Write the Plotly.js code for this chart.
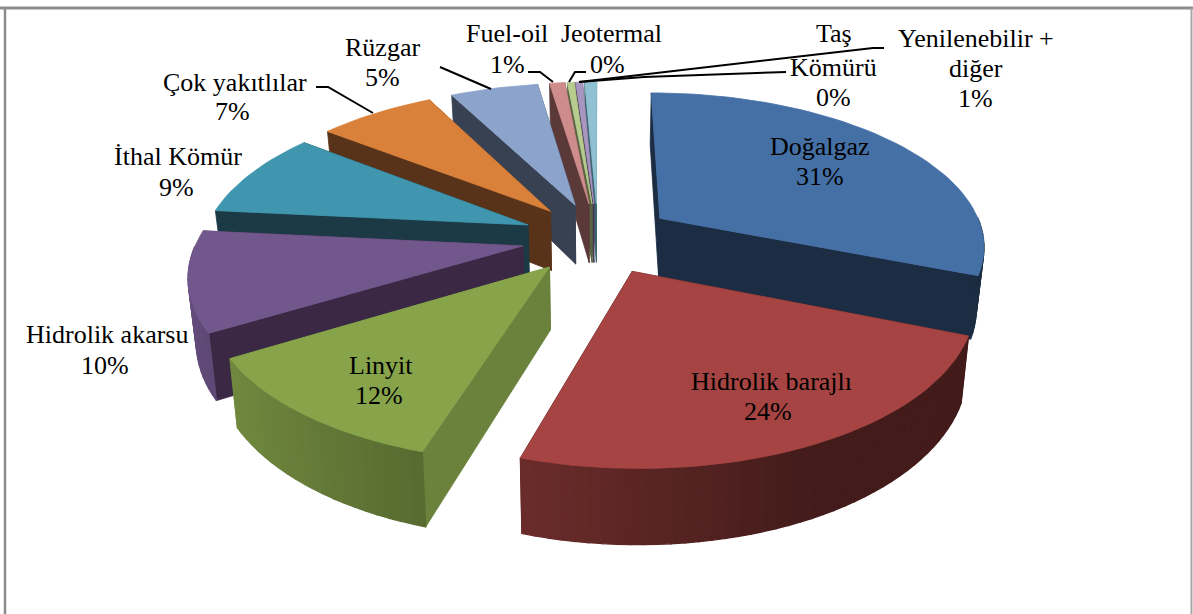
<!DOCTYPE html>
<html><head><meta charset="utf-8">
<script src="https://cdn.plot.ly/plotly-3.0.1.min.js"></script>
<style>html,body{margin:0;padding:0;background:#fff}#c{width:1193px;height:614px}</style>
</head><body><div id="c"></div>
<script>
// Data
const categories = ["Doğalgaz","Hidrolik barajlı","Linyit","Hidrolik akarsu","İthal Kömür","Çok yakıtlılar","Rüzgar","Fuel-oil","Jeotermal","Taş Kömürü","Yenilenebilir + diğer"];
const shares = [31.0,23.7,11.6,10.2,8.9,6.9,5.2,0.9,0.4,0.4,0.7];
const percentLabels = ["31%","24%","12%","10%","9%","7%","5%","1%","0%","0%","1%"];
// Styles
const topColors = ["#4570A6","#A54442","#87A44B","#71578C","#3F96AE","#D9813A","#8CA4CC","#CE8C8A","#B7CC8F","#A797C0","#8FC1D3"];
const cutColors = ["#1B2C43","#431A18","#6A823C","#3A2844","#1B3A45","#58331A","#384152","#5A3938","#586541","#463A55","#3E6572"];
const labelLines = [["Doğalgaz"],["Hidrolik barajlı"],["Linyit"],["Hidrolik akarsu"],["İthal Kömür"],["Çok yakıtlılar"],["Rüzgar"],["Fuel-oil"],["Jeotermal"],["Taş","Kömürü"],["Yenilenebilir +","diğer"]];
const labelAnchors = [[[820,146],[820,176]],[[771,381],[768,411]],[[381,365],[379,395]],[[107,334],[105,365]],[[178,156],[176,187]],[[235,82],[232,111]],[[382,47],[382,77]],[[507,33],[507,64]],[[611,33],[607,64]],[[834,33],[833,67],[833,97]],[[976,38],[976,68],[975,98]]];
const leaders = [[[316,87],[328,87],[373,113]],[[440,67],[491,89]],[[528,72],[540,72],[553,82]],[[586,72],[575,72],[569,82]],[[786,72],[644,77],[579,82]],[[884,48],[873,48],[579,82]]];

// Projection of the exploded pie
const cx=598, cy=238, R=325, K=0.468, PERSP=0.165, DROP=61, EXPLODE=0.235, TAPER=0.02;
function project(u,v,z){ const f=1/(1+PERSP*v); return [cx+R*u*f*(1-TAPER*z), cy-R*K*v*f+z*DROP*f]; }
function rgb(h){return [1,3,5].map(i=>parseInt(h.substr(i,2),16));}
function shade(h,f){const c=rgb(h).map(x=>Math.min(255,Math.round(x*f)));return `rgb(${c[0]},${c[1]},${c[2]})`;}
const rad=d=>d*Math.PI/180;
const total=shares.reduce((a,b)=>a+b,0);
let run=0;
const slices=shares.map((s,i)=>{
  const a0=run/total*360; run+=s; const a1=run/total*360; const b=rad((a0+a1)/2);
  return {i,a0,a1,du:EXPLODE*Math.sin(b),dv:EXPLODE*Math.cos(b),depth:Math.cos(b)};
});
slices.sort((p,q)=>q.dv+q.depth*0.5-(p.dv+p.depth*0.5));

function pt(sl,a,r,z){ return project(sl.du+r*Math.sin(rad(a)), sl.dv+r*Math.cos(rad(a)), z); }
function poly(pts,color,name,w){
  const xs=pts.map(p=>p[0]).concat(pts[0][0]), ys=pts.map(p=>p[1]).concat(pts[0][1]);
  return {type:"scatter",mode:"lines",x:xs,y:ys,fill:"toself",fillcolor:color,line:{color:color,width:w||0.8},hoverinfo:"skip",showlegend:false,name:name};
}
const traces=[];
slices.forEach(sl=>{
  const name=categories[sl.i], top=topColors[sl.i], cut=cutColors[sl.i];
  // cut faces
  [sl.a0,sl.a1].forEach(a=>{
    traces.push(poly([pt(sl,a,0,0),pt(sl,a,1,0),pt(sl,a,1,1),pt(sl,a,0,1)],cut,name));
  });
  // rim strips on the side facing the viewer
  const n=Math.max(1,Math.ceil((sl.a1-sl.a0)/2));
  for(let k=0;k<n;k++){
    const a=sl.a0+(sl.a1-sl.a0)*k/n, c=sl.a0+(sl.a1-sl.a0)*(k+1)/n;
    const mid=rad((a+c)/2);
    if(Math.cos(mid)>0) continue;
    const f=Math.max(0.4,0.55-0.33*Math.sin(mid));
    traces.push(poly([pt(sl,a,1,0),pt(sl,c,1,0),pt(sl,c,1,1),pt(sl,a,1,1)],shade(top,f),name,1.3));
  }
  // top
  const pts=[pt(sl,0,0,0)];
  const m=Math.max(2,Math.ceil((sl.a1-sl.a0)/2));
  for(let k=0;k<=m;k++) pts.push(pt(sl,sl.a0+(sl.a1-sl.a0)*k/m,1,0));
  traces.push(poly(pts,top,name));
});

const annotations=[];
labelLines.forEach((lines,i)=>lines.concat(percentLabels[i]).forEach((t,j)=>annotations.push({
  text:t,x:labelAnchors[i][j][0],y:labelAnchors[i][j][1],xref:"x",yref:"y",showarrow:false,xanchor:"center",yanchor:"middle",
  font:{family:"Liberation Serif, serif",size:26,color:"#000"}
})));
const frame=(x0,y0,x1,y1,c,w)=>({type:"line",xref:"x",yref:"y",x0,y0,x1,y1,line:{color:c,width:w}});
const shapes=[frame(0,8,1193,8,"#8c8c8c",3),frame(5,8,5,614,"#8c8c8c",2.5),frame(1191.5,8,1191.5,614,"#a6a6a6",2)];
leaders.forEach(L=>{
  const path="M"+L.map(p=>p[0]+","+p[1]).join("L");
  shapes.push({type:"path",xref:"x",yref:"y",path,line:{color:"#000",width:2}});
});
Plotly.newPlot("c",traces,{
  width:1193,height:614,margin:{l:0,r:0,t:0,b:0},paper_bgcolor:"#fff",plot_bgcolor:"#fff",showlegend:false,
  xaxis:{range:[0,1193],visible:false,fixedrange:true},
  yaxis:{range:[614,0],visible:false,fixedrange:true},
  annotations,shapes
},{staticPlot:true,displayModeBar:false});
</script></body></html>
